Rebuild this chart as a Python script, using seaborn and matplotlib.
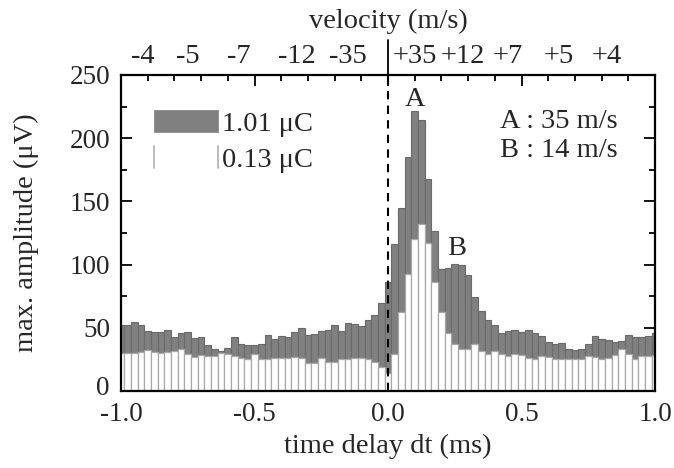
import numpy as np
import pandas as pd
import matplotlib
matplotlib.use("Agg")
import matplotlib.pyplot as plt
import seaborn as sns
from matplotlib.patches import Patch
from matplotlib.lines import Line2D
from matplotlib.legend_handler import HandlerBase
from matplotlib.ticker import MultipleLocator, FixedLocator, FormatStrFormatter
import matplotlib.transforms as mtransforms

# ---- data ----
time_delay = np.linspace(-1.0, 1.0, 81)  # bin centres (ms)

amp_101uC = [52.5, 52.5, 54.5, 52.2, 47.8, 46.5, 46.5, 48.0, 42.5, 45.5,
             46.8, 42.2, 42.4, 36.6, 33.0, 31.4, 33.8, 43.0, 37.2, 36.2,
             36.5, 37.0, 44.3, 41.2, 43.9, 42.4, 46.9, 50.1, 44.3, 44.8,
             47.5, 48.3, 52.2, 47.5, 53.5, 52.8, 51.4, 55.9, 60.1, 69.9,
             86.5,
             116.5, 145.0, 184.9, 221.6, 214.4, 167.5, 126.7, 96.7, 97.5, 100.6,
             99.8, 92.0, 74.6, 63.3, 56.2, 52.0, 46.1, 47.7, 48.3, 46.9,
             48.3, 45.6, 43.5, 38.5, 37.2, 37.7, 33.2, 32.4, 33.5, 37.0,
             43.5, 41.4, 40.6, 38.5, 39.7, 44.0, 42.7, 42.5, 43.5, 45.5]

amp_013uC = [29.8, 29.8, 30.3, 30.6, 32.5, 31.0, 30.1, 30.6, 31.4, 33.2,
             28.9, 27.2, 28.8, 28.0, 28.0, 29.8, 29.3, 27.7, 26.2, 25.5,
             29.0, 25.1, 25.3, 26.4, 25.8, 25.8, 27.0, 25.8, 22.5, 22.2,
             26.0, 22.8, 23.0, 25.5, 25.3, 25.8, 25.8, 25.0, 22.7, 19.3,
             14.0,
             29.5, 62.8, 92.6, 120.2, 132.1, 117.4, 86.5, 62.8, 46.2, 37.2,
             33.0, 33.0, 37.2, 31.8, 29.4, 31.8, 29.4, 27.3, 29.3, 28.6,
             26.0, 25.6, 28.0, 27.0, 25.6, 25.3, 25.3, 25.3, 25.6, 28.0,
             26.9, 25.6, 26.5, 28.5, 33.0, 29.3, 25.4, 27.8, 28.0, 28.5]

y_ticks = [0, 50, 100, 150, 200, 250]

velocity_labels = ["-4", "-5", "-7", "-12", "-35", "+35", "+12", "+7", "+5", "+4"]
velocity_label_pos = [-0.92, -0.75, -0.56, -0.34, -0.15, 0.10, 0.28, 0.45, 0.64, 0.82]

legend_labels = ["1.01 \u03bcC", "0.13 \u03bcC"]
peak_labels = ["A", "B"]
peak_pos = [(0.10, 231), (0.257, 113)]
peak_notes = ["A : 35 m/s", "B : 14 m/s"]

# ---- style ----
sns.set_theme(style="ticks")
plt.rcParams['font.family'] = ['Liberation Serif', 'DejaVu Serif']
plt.rcParams['axes.unicode_minus'] = False
FS_TICK = 19.5
FS = 20.5

GRAY = "#808080"


class SideLinesHandler(HandlerBase):
    """Legend key drawn as two thin vertical edges (open white bar)."""
    def create_artists(self, legend, orig_handle, xdescent, ydescent,
                       width, height, fontsize, trans):
        x0, y0 = -xdescent, -ydescent
        arts = []
        for x in (x0, x0 + width):
            ln = Line2D([x, x], [y0, y0 + height], color="#b0b0b0",
                        linewidth=1.2, transform=trans)
            arts.append(ln)
        return arts


fig = plt.figure(figsize=(6.74, 4.68), dpi=100)
ax = fig.add_axes([121 / 674, 1 - 391 / 468, 534 / 674, 316 / 468])

df = pd.DataFrame({"t": time_delay, "hi": amp_101uC, "lo": amp_013uC})
sns.barplot(data=df, x="t", y="hi", native_scale=True, width=1.0,
            color=GRAY, saturation=1, edgecolor="#6a6a6a", linewidth=0.8,
            errorbar=None, ax=ax)
sns.barplot(data=df, x="t", y="lo", native_scale=True, width=1.0,
            color="white", saturation=1, edgecolor="#a8a8a8", linewidth=0.9,
            errorbar=None, ax=ax)

ax.set_xlim(-1.0, 1.0)
ax.set_ylim(0, 250)
ax.xaxis.set_major_locator(MultipleLocator(0.5))
ax.xaxis.set_minor_locator(MultipleLocator(0.1))
ax.xaxis.set_major_formatter(FormatStrFormatter('%.1f'))
ax.yaxis.set_major_locator(FixedLocator(y_ticks))
ax.yaxis.set_minor_locator(MultipleLocator(25))
ax.tick_params(which='both', direction='in', top=True, right=True,
               labelsize=FS_TICK, color='black', width=1.3)
ax.tick_params(which='major', length=8)
ax.tick_params(which='minor', length=4.5)
ax.tick_params(axis='x', which='major', pad=8)
ax.tick_params(axis='y', which='major', pad=8)
for s in ax.spines.values():
    s.set_linewidth(1.6)
    s.set_color('black')

ax.set_xlabel("time delay dt (ms)", fontsize=FS, labelpad=5)
ax.set_ylabel("max. amplitude (\u03bcV)", fontsize=FS, labelpad=22)

# nudge the "0" y label slightly up so it clears the "-1.0" x label
zero_tick = ax.yaxis.get_major_ticks()[0]
zero_tick.label1.set_transform(zero_tick.label1.get_transform() +
                               mtransforms.ScaledTranslation(0, 4 / 72, fig.dpi_scale_trans))

# dashed zero line
ax.axvline(0.0, color='black', linestyle=(0, (4, 3)), linewidth=1.5, zorder=5)

# top velocity scale
trans = mtransforms.blended_transform_factory(ax.transData, ax.transAxes)
for lab, pos in zip(velocity_labels, velocity_label_pos):
    ax.text(pos, 1.057, lab, transform=trans, ha='center', va='center', fontsize=FS)
ax.add_line(Line2D([0.0, 0.0], [1.0, 1.11], transform=trans, color='black',
                   linewidth=1.3, clip_on=False))
ax.text(0.0, 1.168, "velocity (m/s)", transform=trans, ha='center', va='center', fontsize=FS)

# peak annotations
for lab, (px, py) in zip(peak_labels, peak_pos):
    ax.text(px, py, lab, ha='center', va='center', fontsize=FS)
ax.text(0.42, 213, peak_notes[0], ha='left', va='center', fontsize=FS)
ax.text(0.42, 190, peak_notes[1], ha='left', va='center', fontsize=FS)

h_gray = Patch(facecolor=GRAY, edgecolor=GRAY, linewidth=0.5)
h_white = Patch(facecolor="white", edgecolor="none")
ax.legend([h_gray, h_white], legend_labels, loc='upper left',
          bbox_to_anchor=(0.062, 0.89),
          handler_map={h_white: SideLinesHandler()},
          frameon=False, fontsize=FS, handlelength=2.25, handleheight=0.8,
          handletextpad=0.15, labelspacing=0.33, borderpad=0, borderaxespad=0)

fig.savefig("out.png", dpi=100)
